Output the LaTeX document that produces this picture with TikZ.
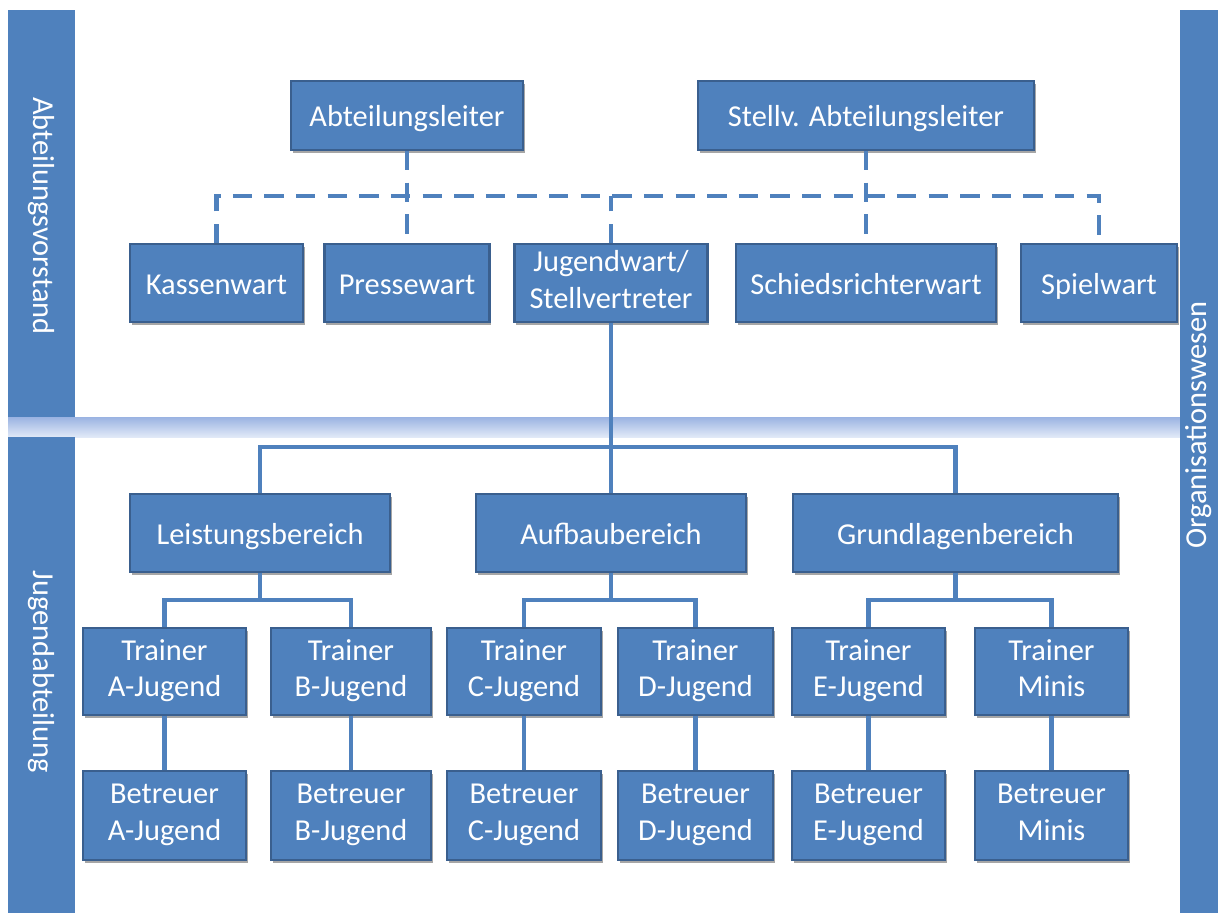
\documentclass[tikz,border=0pt]{standalone}
\usepackage{fontspec}
\setmainfont{Carlito}
\usetikzlibrary{shadows}

\definecolor{boxblue}{HTML}{4F81BD}
\definecolor{boxedge}{HTML}{3A5F8E}
\definecolor{bandtop}{HTML}{9AB3E2}
\definecolor{bandbot}{HTML}{E1E9F7}

\newcommand\boxstrut{\rule[-4pt]{0pt}{21pt}}

\tikzset{
  orgbox/.style={draw=boxedge, fill=boxblue, line width=1.2pt, text=white, align=center,
    font=\fontsize{17.3}{21}\selectfont, inner sep=0pt,
    execute at begin node=\boxstrut, execute at end node=\boxstrut,
    drop shadow={shadow xshift=1pt, shadow yshift=-1.5pt, opacity=0.35, fill=black}},
  bw/.style={minimum width=#1*0.02cm},
  bh/.style={minimum height=#1*0.02cm},
  sline/.style={draw=boxblue, line width=2.3pt},
  dline/.style={draw=boxblue, line width=2.3pt, dash pattern=on 11pt off 7pt},
  sidetext/.style={text=white, font=\fontsize{17.3}{21}\selectfont}
}

\begin{document}
\begin{tikzpicture}[x=0.02cm, y=-0.02cm]
\useasboundingbox (0,0) rectangle (1218,913);

% side bars and the band between the two parts
\shade[top color=bandtop, bottom color=bandbot] (8,417) rectangle (1180,437);
\fill[boxblue] (8,10) rectangle (75,417);
\fill[boxblue] (8,437) rectangle (75,913);
\fill[boxblue] (1180,10) rectangle (1218,913);

\node[sidetext, rotate=-90] (vorstand) at (41,216) {Abteilungsvorstand};
\node[sidetext, rotate=-90] (jugend) at (41,672) {Jugendabteilung};
\node[sidetext, rotate=90] (orga) at (1199,425) {Organisationswesen};

% Vorstand
\node[orgbox, bw=232, bh=69] (al) at (407,115.5) {Abteilungsleiter};
\node[orgbox, bw=336, bh=69] (sal) at (866,115.5) {Stellv. Abteilungsleiter};

\node[orgbox, bw=173, bh=78] (kw) at (216.5,283) {Kassenwart};
\node[orgbox, bw=165, bh=78] (pw) at (407,283) {Pressewart};
\node[orgbox, bw=193, bh=78] (jw) at (611,283) {Jugendwart/\\Stellvertreter};
\node[orgbox, bw=260, bh=78] (srw) at (866,283) {Schiedsrichterwart};
\node[orgbox, bw=156, bh=78] (sw) at (1099,283) {Spielwart};

% dashed lines of the Vorstand
\coordinate (dl) at (216.5,196);
\draw[dline] (kw.north) -- (dl) -| (sw.north);
\draw[dline] (jw.north) -- (jw.north |- dl);
\draw[dline] (al.south) -- (pw.north);
\draw[dline] (sal.south) -- (srw.north);

% Bereiche
\node[orgbox, bw=260, bh=78] (lb) at (260,533) {Leistungsbereich};
\node[orgbox, bw=270, bh=78] (ab) at (611,533) {Aufbaubereich};
\node[orgbox, bw=325, bh=78] (gb) at (955.5,533) {Grundlagenbereich};

\draw[sline] (jw.south) -- (ab.north);
\coordinate (jb) at (611,447);
\draw[sline] (lb.north) |- (jb) -| (gb.north);

% Trainer and Betreuer
\foreach \n/\x/\w/\t in {a/164.5/163/A-Jugend, b/351/160/B-Jugend, c/524/154/C-Jugend,
                         d/695.5/155/D-Jugend, e/868.5/153/E-Jugend, m/1051.5/153/Minis} {
  \node[orgbox, bw=\w, bh=87] (t\n) at (\x,671.5) {Trainer\\\t};
  \node[orgbox, bw=\w, bh=89] (b\n) at (\x,815.5) {Betreuer\\\t};
  \draw[sline] (t\n) -- (b\n);
}

\draw[sline] (lb.south) -- ++(0,27) coordinate (lbs);
\draw[sline] (ta.north) |- (lbs) -| (tb.north);
\draw[sline] (ab.south) -- ++(0,27) coordinate (abs);
\draw[sline] (tc.north) |- (abs) -| (td.north);
\draw[sline] (gb.south) -- ++(0,27) coordinate (gbs);
\draw[sline] (te.north) |- (gbs) -| (tm.north);

\end{tikzpicture}
\end{document}
